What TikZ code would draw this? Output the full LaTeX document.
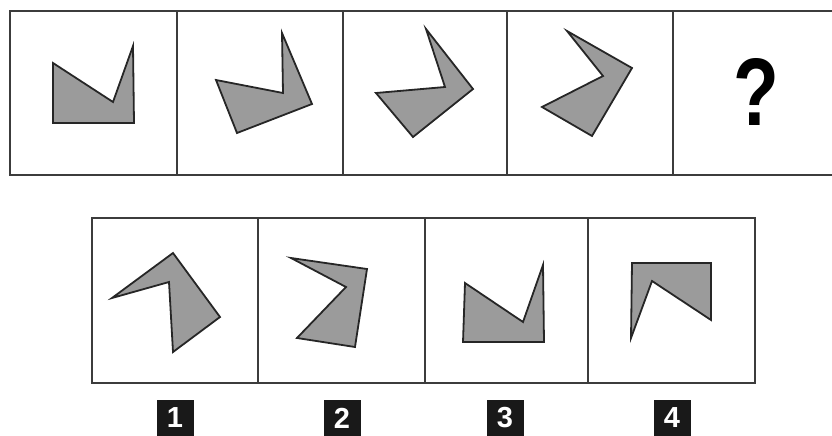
\documentclass[tikz,border=0pt]{standalone}
\usepackage{fontspec}
\setmainfont{Liberation Sans}
\usepackage{tikz}
\usetikzlibrary{positioning}

\definecolor{framegray}{RGB}{60,60,60}
\definecolor{shapegray}{RGB}{155,155,155}
\tikzset{
  cell/.style={draw=framegray, line width=1.9pt},
  piece/.style={fill=shapegray, draw=black!85, line width=1.8pt, line join=miter},
  tag/.style={fill=black!90, text=white, font=\bfseries\fontsize{29}{29}\selectfont,
    minimum width=37pt, minimum height=36pt, inner sep=0pt}
}

\begin{document}
\begin{tikzpicture}[x=1pt,y=-1pt]
\useasboundingbox (0,0) rectangle (832,436);
\clip (0,0) rectangle (832,436);
% sequence row
\foreach \xa/\xb in {10/177,177/343,343/507,507/673,673/839}
  \draw[cell] (\xa,11) rectangle (\xb,175);
\draw[piece] (53,63) -- (113,102) -- (133,46) -- (134,123) -- (53,123) -- cycle;
\draw[piece] (216,80) -- (283,93) -- (282,33) -- (312,104) -- (237,133) -- cycle;
\draw[piece] (376,93) -- (445,87) -- (426,29) -- (473,89) -- (413,137) -- cycle;
\draw[piece] (567,31) -- (632,68) -- (592,136) -- (542,107) -- (603,76) -- cycle;
\node[font=\bfseries\fontsize{96}{96}\selectfont, xscale=0.78, inner sep=0pt] (ask) at (756,92) {?};
% answer row
\foreach \xa/\xb in {92/258,258/425,425/588,588/755}
  \draw[cell] (\xa,218) rectangle (\xb,383);
\draw[piece] (112,298) -- (173,253) -- (220,317) -- (173,352) -- (169,282) -- cycle;
\draw[piece] (291,258) -- (367,269) -- (355,347) -- (297,338) -- (346,287) -- cycle;
\draw[piece] (465,283) -- (523,322) -- (543,265) -- (544,342) -- (463,342) -- cycle;
\draw[piece] (632,263) -- (711,263) -- (711,320) -- (652,281) -- (631,338) -- cycle;
\node[tag] (opt1) at (175,418) {1};
\node[tag] (opt2) at (342,418) {2};
\node[tag] (opt3) at (505,418) {3};
\node[tag] (opt4) at (672,418) {4};
\end{tikzpicture}
\end{document}
